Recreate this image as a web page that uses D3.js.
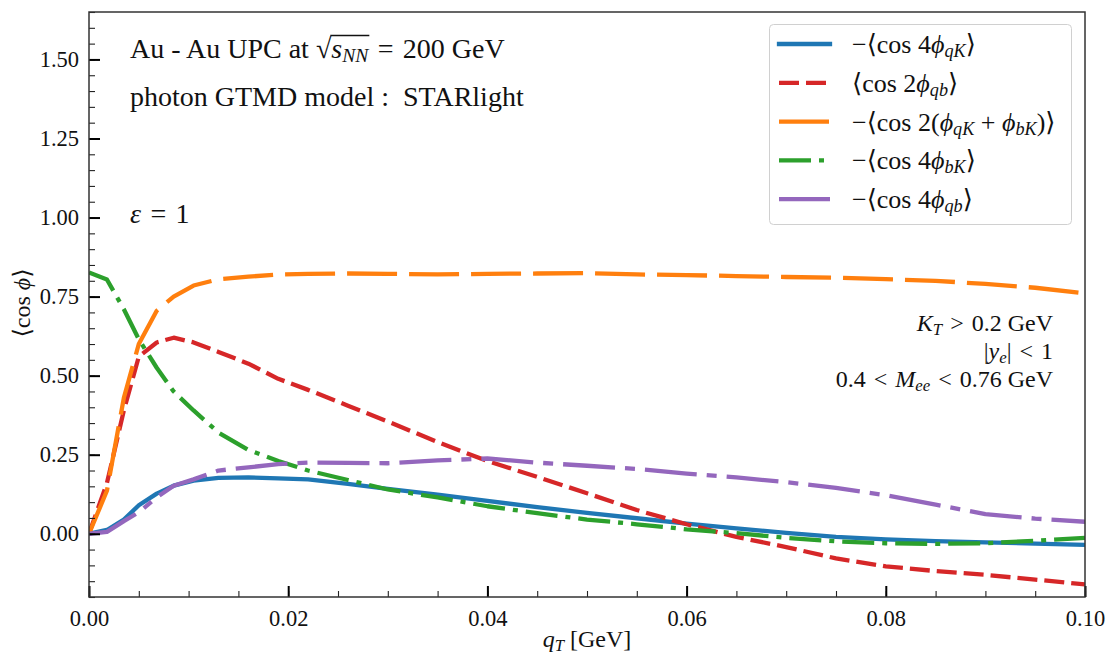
<!DOCTYPE html>
<html lang="en">
<head>
  <meta charset="utf-8">
  <title>cos phi asymmetries vs qT</title>
  <script src="https://d3js.org/d3.v7.min.js"></script>
  <style>
    * { margin: 0; padding: 0; }
    html, body { width: 1107px; height: 655px; background: #fff; overflow: hidden; }
    svg text { font-family: "Liberation Serif", "DejaVu Serif", serif; fill: #111; }
  </style>
</head>
<body>
  <svg id="chart" width="1107" height="655"></svg>

  <script>
  // q_T grid (GeV)
  const qT = [0, 0.0018, 0.0035, 0.005, 0.0068, 0.0085, 0.0105, 0.013, 0.016, 0.019, 0.022, 0.026,
              0.03, 0.035, 0.04, 0.045, 0.05, 0.055, 0.06, 0.065, 0.07, 0.075, 0.08, 0.085, 0.09, 0.095, 0.1];

  const cos4qK = [0, 0.012, 0.045, 0.09, 0.127, 0.152, 0.168, 0.177, 0.178, 0.175, 0.172, 0.158,
                  0.142, 0.124, 0.104, 0.084, 0.066, 0.049, 0.032, 0.017, 0.003, -0.01, -0.018, -0.023, -0.027, -0.031, -0.035];
  const cos2qb = [0, 0.16, 0.39, 0.56, 0.605, 0.62, 0.605, 0.575, 0.538, 0.49, 0.455, 0.405,
                  0.355, 0.29, 0.23, 0.18, 0.128, 0.075, 0.03, -0.01, -0.042, -0.078, -0.103, -0.118, -0.13, -0.145, -0.16];
  const cos2qKbK = [0, 0.136, 0.43, 0.60, 0.705, 0.75, 0.785, 0.805, 0.813, 0.82, 0.822, 0.823,
                    0.822, 0.82, 0.822, 0.823, 0.824, 0.82, 0.818, 0.815, 0.812, 0.81, 0.805, 0.80, 0.79, 0.778, 0.76];
  const cos4bK = [0.826, 0.804, 0.71, 0.615, 0.525, 0.45, 0.39, 0.32, 0.265, 0.23, 0.2, 0.17,
                  0.14, 0.115, 0.087, 0.065, 0.045, 0.03, 0.014, 0.002, -0.013, -0.024, -0.03, -0.032, -0.03, -0.022, -0.013];
  const cos4qb = [0, 0.006, 0.04, 0.068, 0.115, 0.152, 0.172, 0.2, 0.21, 0.22, 0.225, 0.224,
                  0.223, 0.232, 0.238, 0.225, 0.215, 0.205, 0.19, 0.178, 0.163, 0.145, 0.122, 0.092, 0.062, 0.048, 0.038];

  const xTicks = [0, 0.02, 0.04, 0.06, 0.08, 0.1];
  const yTicks = [0, 0.25, 0.5, 0.75, 1.0, 1.25, 1.5];

  // each label: list of [text, style] where style is "" (roman), "i" (italic), "s" (italic subscript)
  const seriesDefs = [
    { values: cos4qK,   color: "#1f77b4", dash: null,          label: [["−⟨cos 4", ""], ["ϕ", "i"], ["qK", "s"], ["⟩", ""]] },
    { values: cos2qb,   color: "#d62728", dash: "20,7",        label: [["⟨cos 2", ""], ["ϕ", "i"], ["qb", "s"], ["⟩", ""]] },
    { values: cos2qKbK, color: "#ff7f0e", dash: "50,12",       label: [["−⟨cos 2(", ""], ["ϕ", "i"], ["qK", "s"], [" + ", ""], ["ϕ", "i"], ["bK", "s"], [")⟩", ""]] },
    { values: cos4bK,   color: "#2ca02c", dash: "32,8,5,8",    label: [["−⟨cos 4", ""], ["ϕ", "i"], ["bK", "s"], ["⟩", ""]] },
    { values: cos4qb,   color: "#9467bd", dash: "52,10,10,10", label: [["−⟨cos 4", ""], ["ϕ", "i"], ["qb", "s"], ["⟩", ""]] }
  ];

  (function() {
  const plotL = 89, plotR = 1085, plotT = 12, plotB = 597;
  const sp = "\u2004"; // a bit wider than a normal space, for math relations

  const svg = d3.select("#chart");

  const x = d3.scaleLinear().domain([0, 0.1]).range([plotL, plotR]);
  const y = d3.scaleLinear().domain([-0.2, 1.65]).range([plotB, plotT]);

  function mathText(sel, parts) {
    parts.forEach(([t, s]) => {
      const ts = sel.append("tspan").text(t);
      if (s === "i" || s === "s") ts.attr("font-style", "italic");
      if (s === "s") ts.attr("font-size", "70%").attr("baseline-shift", "-22%");
    });
    return sel;
  }

  // clip for curves
  svg.append("clipPath").attr("id", "plot-clip")
    .append("rect").attr("x", plotL).attr("y", plotT)
    .attr("width", plotR - plotL).attr("height", plotB - plotT);

  // curves
  const line = d3.line().x((d, i) => x(qT[i])).y(d => y(d));
  const curves = svg.append("g").attr("clip-path", "url(#plot-clip)");
  seriesDefs.forEach(s => {
    curves.append("path")
      .datum(s.values)
      .attr("d", line)
      .attr("fill", "none")
      .attr("stroke", s.color)
      .attr("stroke-width", 4.3)
      .attr("stroke-linejoin", "round")
      .attr("stroke-dasharray", s.dash);
  });

  // axes with inward ticks
  const xAxis = svg.append("g").attr("transform", `translate(0,${plotB})`)
    .call(d3.axisBottom(x).tickValues(d3.range(0, 0.1001, 0.005)).tickSize(-6).tickFormat(""));
  xAxis.selectAll(".tick line").attr("stroke", "#222").attr("stroke-width", 1.1);
  const xMaj = svg.append("g").attr("transform", `translate(0,${plotB})`)
    .call(d3.axisBottom(x).tickValues(xTicks).tickSize(-11).tickPadding(22).tickFormat(d3.format(".2f")));
  xMaj.selectAll(".tick line").attr("stroke", "#000").attr("stroke-width", 2);
  xMaj.selectAll(".tick text").attr("font-size", 22.5).attr("dy", "0.3em")
    .attr("font-family", "'Liberation Serif', serif").attr("fill", "#222");

  const yAxis = svg.append("g").attr("transform", `translate(${plotL},0)`)
    .call(d3.axisLeft(y).tickValues(d3.range(-0.2, 1.6501, 0.05)).tickSize(-6).tickFormat(""));
  yAxis.selectAll(".tick line").attr("stroke", "#222").attr("stroke-width", 1.1);
  const yMaj = svg.append("g").attr("transform", `translate(${plotL},0)`)
    .call(d3.axisLeft(y).tickValues(yTicks).tickSize(-11).tickPadding(10).tickFormat(d3.format(".2f")));
  yMaj.selectAll(".tick line").attr("stroke", "#000").attr("stroke-width", 2);
  yMaj.selectAll(".tick text").attr("font-size", 22.5)
    .attr("font-family", "'Liberation Serif', serif").attr("fill", "#222");

  svg.selectAll(".domain").remove();

  // frame
  svg.append("rect").attr("x", plotL).attr("y", plotT)
    .attr("width", plotR - plotL).attr("height", plotB - plotT)
    .attr("fill", "none").attr("stroke", "#333").attr("stroke-width", 1.5);

  // axis labels
  mathText(svg.append("text").attr("x", (plotL + plotR) / 2).attr("y", 647)
    .attr("text-anchor", "middle").attr("font-size", 24),
    [["q", "i"], ["T", "s"], [" [GeV]", ""]]);
  mathText(svg.append("text").attr("transform", `translate(30,${303}) rotate(-90)`)
    .attr("text-anchor", "middle").attr("font-size", 24),
    [["⟨cos ", ""], ["ϕ", "i"], ["⟩", ""]]);

  // annotations top-left
  const t1 = mathText(svg.append("text").attr("x", 130).attr("y", 58).attr("font-size", 28)
    .attr("xml:space", "preserve"),
    [["Au - Au UPC at ", ""], ["√", ""], ["s", "i"], ["NN", "s"], [sp + "=" + sp + "200 GeV", ""]]);
  // overline of square root
  {
    const node = t1.node();
    const txt = node.textContent;
    const iRoot = txt.indexOf("√");
    const iEnd = iRoot + 3; // s N N
    const r0 = node.getExtentOfChar(iRoot);
    const r1 = node.getExtentOfChar(iEnd);
    svg.append("line")
      .attr("x1", r0.x + r0.width - 1).attr("x2", r1.x + r1.width + 1)
      .attr("y1", r0.y + 2.5).attr("y2", r0.y + 2.5)
      .attr("stroke", "#111").attr("stroke-width", 1.3);
  }
  svg.append("text").attr("x", 130).attr("y", 106).attr("font-size", 28)
    .attr("xml:space", "preserve").text("photon GTMD model :  STARlight");
  mathText(svg.append("text").attr("x", 130).attr("y", 223).attr("font-size", 28)
    .attr("xml:space", "preserve"),
    [["ε", "i"], [sp + "=" + sp + "1", ""]]);

  // cuts, right aligned
  const cuts = [
    [["K", "i"], ["T", "s"], [sp + ">" + sp + "0.2 GeV", ""]],
    [["|", ""], ["y", "i"], ["e", "s"], ["|" + sp + "<" + sp + "1", ""]],
    [["0.4" + sp + "<" + sp, ""], ["M", "i"], ["ee", "s"], [sp + "<" + sp + "0.76 GeV", ""]]
  ];
  cuts.forEach((c, i) => {
    mathText(svg.append("text").attr("x", 1053).attr("y", 331 + i * 28)
      .attr("text-anchor", "end").attr("font-size", 24).attr("xml:space", "preserve"), c);
  });

  // legend
  const lg = svg.append("g");
  lg.append("rect").attr("x", 769.5).attr("y", 24.5).attr("width", 302).attr("height", 200)
    .attr("rx", 4).attr("fill", "#fff").attr("fill-opacity", 0.85)
    .attr("stroke", "#d0d0d0").attr("stroke-width", 1);
  seriesDefs.forEach((s, i) => {
    const ly = 44 + i * 38.8;
    lg.append("line").attr("x1", 779).attr("x2", 830).attr("y1", ly).attr("y2", ly)
      .attr("stroke", s.color).attr("stroke-width", 4.3)
      .attr("stroke-dasharray", s.dash)
      .attr("stroke-linecap", s.dash ? "butt" : "square");
    mathText(lg.append("text").attr("x", 852).attr("y", ly + 9).attr("font-size", 26)
      .attr("xml:space", "preserve"), s.label);
  });
  })();
  </script>
</body>
</html>
